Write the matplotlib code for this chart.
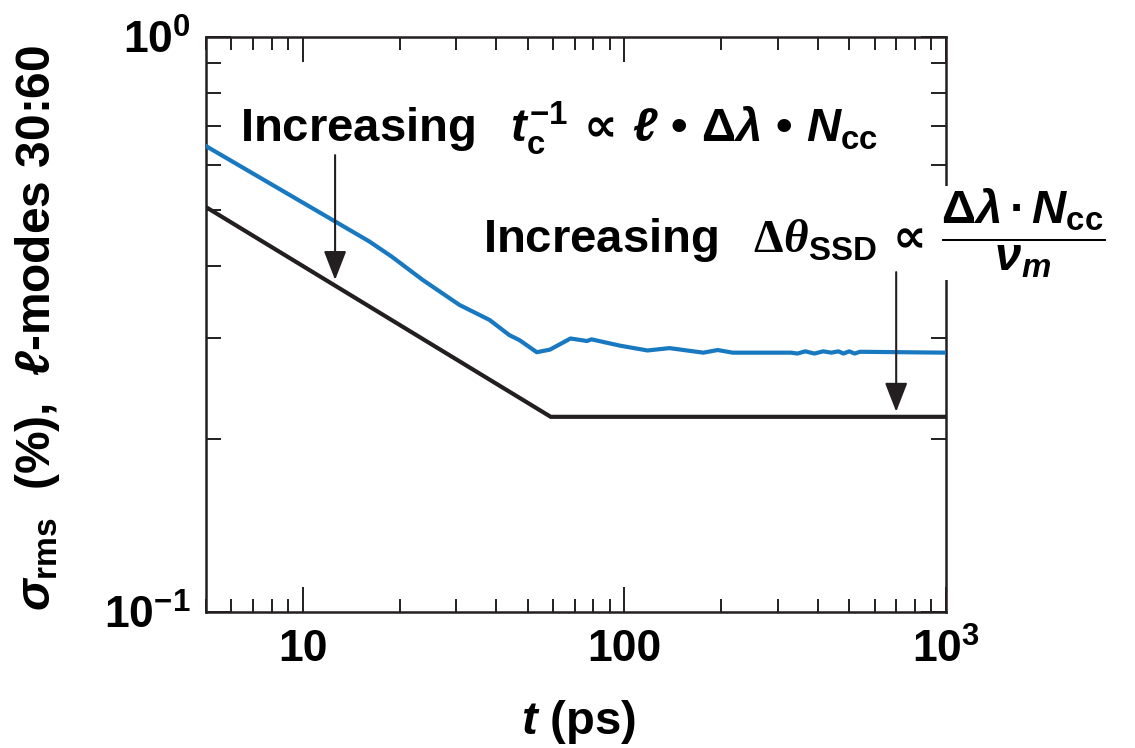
import numpy as np
import matplotlib
matplotlib.use("Agg")
import matplotlib.pyplot as plt
from matplotlib.ticker import FixedLocator, FixedFormatter, LogLocator, NullFormatter

# fonts: bold sans for everything, math in the same family
plt.rcParams['font.family'] = ['Liberation Sans', 'DejaVu Sans']
plt.rcParams['font.weight'] = 'bold'
plt.rcParams['mathtext.fontset'] = 'custom'
plt.rcParams['mathtext.rm'] = 'Liberation Sans:bold'
plt.rcParams['mathtext.it'] = 'Liberation Sans:italic:bold'
plt.rcParams['mathtext.bf'] = 'Liberation Sans:bold'
plt.rcParams['mathtext.sf'] = 'Liberation Serif'          # upright serif Delta
plt.rcParams['mathtext.tt'] = 'Liberation Serif:italic'   # serif theta
plt.rcParams['mathtext.cal'] = 'DejaVu Sans'              # thin "proportional to"
plt.rcParams['mathtext.fallback'] = 'stixsans'

# data
black_t = [5, 59, 1000]
black_sigma = [0.506, 0.2185, 0.2185]

blue_t = [5, 16.1, 18.9, 23.6, 30.7, 38.1, 43.9, 47.2, 53.4, 58.7, 68, 76.5, 79,
          97, 118, 138, 176, 195, 217, 330, 345, 365, 390, 415, 440, 463, 480,
          500, 520, 540, 1000]
blue_sigma = [0.646, 0.441, 0.415, 0.378, 0.342, 0.322, 0.303, 0.297, 0.283, 0.286,
              0.299, 0.296, 0.298, 0.2905, 0.285, 0.2877, 0.2825, 0.2855, 0.2825,
              0.2825, 0.2815, 0.284, 0.2815, 0.284, 0.2825, 0.284, 0.2815,
              0.284, 0.2815, 0.2835, 0.2825]

xticks = [10, 100, 1000]
xtick_labels = ['10', '100', r'$10^{3}$']
yticks = [0.1, 1.0]
ytick_labels = [r'$10^{-1}$', r'$10^{0}$']

W, H = 1135, 748
fig = plt.figure(figsize=(W / 100, H / 100), dpi=100)
ax = fig.add_axes([206 / W, 1 - 612 / H, (946 - 206) / W, (612 - 37) / H])

ax.plot(black_t, black_sigma, color='#231f20', lw=3.0, solid_joinstyle='miter', zorder=3)
ax.plot(blue_t, blue_sigma, color='#1878c0', lw=3.0, zorder=3)

ax.set_xscale('log')
ax.set_yscale('log')
ax.set_xlim(5, 1000)
ax.set_ylim(0.1, 1.0)

ax.xaxis.set_major_locator(FixedLocator(xticks))
ax.xaxis.set_major_formatter(FixedFormatter(xtick_labels))
ax.xaxis.set_minor_locator(LogLocator(base=10, subs=np.arange(2, 10)))
ax.xaxis.set_minor_formatter(NullFormatter())
ax.yaxis.set_major_locator(FixedLocator(yticks))
ax.yaxis.set_major_formatter(FixedFormatter(ytick_labels))
ax.yaxis.set_minor_locator(LogLocator(base=10, subs=np.arange(2, 10)))
ax.yaxis.set_minor_formatter(NullFormatter())

for s in ax.spines.values():
    s.set_linewidth(1.8)
    s.set_color('#231f20')
ax.tick_params(which='both', direction='in', top=True, right=True,
               width=1.4, color='#231f20')
ax.tick_params(axis='x', which='major', length=18, pad=12, labelsize=32)
ax.tick_params(axis='x', which='minor', length=9.5)
ax.tick_params(axis='y', which='major', length=18, pad=11, labelsize=32)
ax.tick_params(axis='y', which='minor', length=11)

# axis labels
fig.text(579 / W, 1 - 722 / H, r'$t$ (ps)', fontsize=34, ha='center', va='center')
fig.text(38 / W, 1 - 328 / H, r'$\sigma_{\mathrm{rms}}$  (%),  $\ell$-modes 30:60',
         fontsize=34.5, rotation=90, ha='center', va='center')

# annotations
ax.text(240 / W, 1 - 142 / H,
        r'Increasing $\ \,t_{\mathrm{c}}^{-1}\,\mathcal{\propto}\,\ell\ •\ \Delta\lambda\ •\ N_{\mathrm{cc}}$',
        transform=fig.transFigure, fontsize=34, ha='left', va='baseline', zorder=3)
ax.text(483 / W, 1 - 253 / H,
        r'Increasing $\ \,\mathsf{\Delta}\mathtt{\theta}_{\mathrm{SSD}}\,\mathcal{\propto}\,'
        r'\dfrac{\Delta\lambda\,·\,N_{\mathrm{cc}}}{\nu_{m}}$',
        transform=fig.transFigure, fontsize=34, ha='left', va='baseline', zorder=3,
        bbox=dict(facecolor='white', edgecolor='none', pad=0))

arrow = dict(arrowstyle='-|>,head_length=0.9,head_width=0.35', color='#231f20',
             lw=1.5, mutation_scale=20, shrinkA=0, shrinkB=0)
ax.annotate('', xy=(12.6, 0.378), xytext=(12.6, 0.623), arrowprops=arrow, zorder=4)
ax.annotate('', xy=(700, 0.223), xytext=(700, 0.390), arrowprops=arrow, zorder=4)

fig.savefig('out.png', dpi=100)
